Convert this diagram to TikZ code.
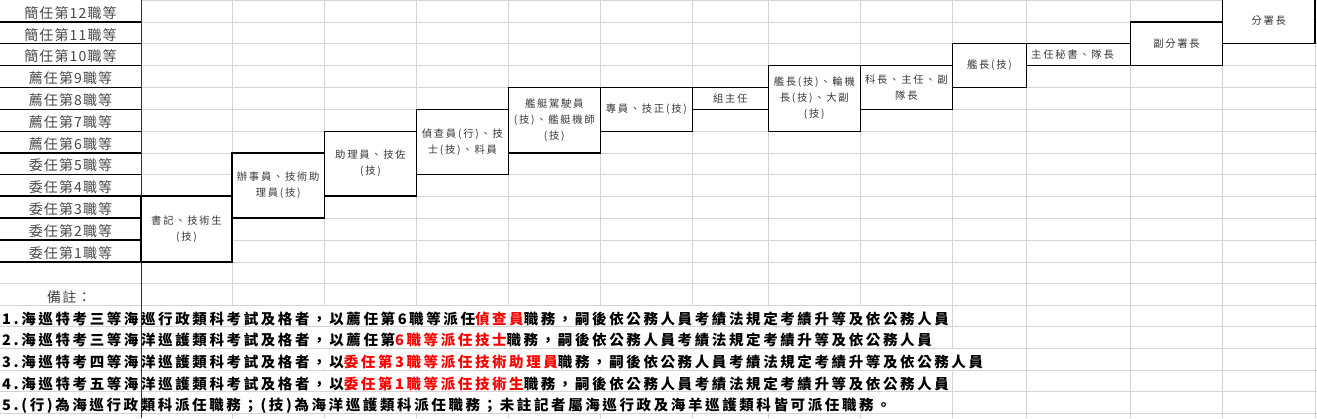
\documentclass[tikz,border=0pt]{standalone}
\usepackage{fontspec}
\setmainfont{Noto Sans CJK TC}
\newfontfamily\myLabF[LetterSpace=8]{Noto Sans CJK TC}
\newfontfamily\myBoxF[LetterSpace=17]{Noto Sans CJK TC}
\newfontfamily\myNoteF[LetterSpace=18]{Noto Sans CJK TC}
\newcommand\myLab{\myLabF\fontsize{14pt}{16pt}\selectfont}
\newcommand\myBox{\myBoxF\fontsize{10.3pt}{16pt}\selectfont}
\newcommand\myNote{\myNoteF\bfseries\fontsize{14.5pt}{16pt}\selectfont}
\definecolor{gridgray}{HTML}{D4D4D4}
\definecolor{hl}{HTML}{FF0000}
\begin{document}
\begin{tikzpicture}[x=1pt,y=-1pt,
  gl/.style={draw=gridgray, line width=0.8pt},
  blackrule/.style={draw=black, line width=1.3pt},
  cellbox/.style={draw=black, line width=1.3pt, fill=white, inner sep=0pt, outer sep=0pt,
    align=center, font=\myBox, text=black!78, anchor=north west},
  rank/.style={anchor=base, font=\myLab, text=black!72, inner sep=0pt},
  note/.style={anchor=base west, font=\myNote, text=black, inner sep=0pt}]
\useasboundingbox (0,0) rectangle (1317,418);
\fill[white] (0,0) rectangle (1317,418);
% vertical gridlines
\foreach \x in {232,324.5,416.5,508.3,600.3,692.3,768.3,860.3,952.5,1026.5,1130.5,1222.5,1315}
  \draw[gl] (\x,0) -- (\x,418);
% hide gridlines where the notes overflow
\fill[white] (142,305.6) rectangle (861.5,326.1);
\fill[white] (142,327.3) rectangle (861.5,347.7);
\fill[white] (142,348.9) rectangle (954,369.4);
\fill[white] (142,370.6) rectangle (861.5,391.1);
\fill[white] (142,392.3) rectangle (861.5,412.7);
% horizontal gridlines
\foreach \y in {0.3,22,43.5,65.3,87.3,109.3,131.3,153,174.3,196,218,240,262}
  \draw[gl] (141,\y) -- (1317,\y);
\foreach \y in {283.3,305,326.7,348.3,370,391.7,413.3}
  \draw[gl] (0,\y) -- (1317,\y);
% rank column rules
\foreach \y in {22,43.5,65.3,87.3,109.3,131.3,153,174.3,196,218,240,262}
  \draw[blackrule] (0,\y) -- (141,\y);
\draw[draw=black!80, line width=1pt] (141,0) -- (141,418);
% rank labels
\foreach \t/\y [count=\i] in {簡任第12職等/18.5, 簡任第11職等/40, 簡任第10職等/61.8,
  薦任第9職等/83.8, 薦任第8職等/105.8, 薦任第7職等/127.8, 薦任第6職等/149.5,
  委任第5職等/170.8, 委任第4職等/192.5, 委任第3職等/214.5, 委任第2職等/236.5, 委任第1職等/258.5}
  \node[rank] (rk\i) at (70.5,\y) {\t};
% position boxes
\node[cellbox, minimum width=91pt, minimum height=66pt] (b1) at (141,196) {書記、技術生\\(技)};
\node[cellbox, minimum width=92.5pt, minimum height=65pt] (b2) at (232,153) {辦事員、技術助\\理員(技)};
\node[cellbox, minimum width=92pt, minimum height=64.7pt] (b3) at (324.5,131.3) {助理員、技佐\\(技)};
\node[cellbox, minimum width=91.8pt, minimum height=65pt] (b4) at (416.5,109.3) {偵查員(行)、技\\士(技)、料員};
\node[cellbox, minimum width=92pt, minimum height=65.7pt] (b5) at (508.3,87.3) {艦艇駕駛員\\(技)、艦艇機師\\(技)};
\node[cellbox, minimum width=92pt, minimum height=44pt] (b6) at (600.3,87.3) {專員、技正(技)};
\node[cellbox, minimum width=76pt, minimum height=22pt] (b7) at (692.3,87.3) {組主任};
\node[cellbox, minimum width=92pt, minimum height=66pt] (b8) at (768.3,65.3) {艦長(技)、輪機\\長(技)、大副\\(技)};
\node[cellbox, minimum width=92.2pt, minimum height=44pt] (b9) at (860.3,65.3) {科長、主任、副\\隊長};
\node[cellbox, minimum width=74pt, minimum height=43.8pt] (b10) at (952.5,43.5) {艦長(技)};
\node[cellbox, minimum width=104pt, minimum height=21.8pt] (b11) at (1026.5,43.5) {};
\node[anchor=west, font=\myBox, text=black!78, inner sep=0pt] (t11) at (1031,54.6) {主任秘書、隊長};
\node[cellbox, minimum width=92pt, minimum height=43.3pt] (b12) at (1130.5,22) {副分署長};
\node[cellbox, minimum width=92.5pt, minimum height=46.5pt] (b13) at (1222.5,-3) {分署長};
% remarks
\node[anchor=base west, font=\myLab, text=black!72, inner sep=0pt] (rem) at (47,302.5) {備註：};
\node[note] (n1) at (2,324) {1.海巡特考三等海巡行政類科考試及格者，以薦任第6職等派任\textcolor{hl}{偵查員}職務，嗣後依公務人員考績法規定考績升等及依公務人員};
\node[note] (n2) at (2,345.6) {2.海巡特考三等海洋巡護類科考試及格者，以薦任第\textcolor{hl}{6職等派任技士}職務，嗣後依公務人員考績法規定考績升等及依公務人員};
\node[note] (n3) at (2,367.3) {3.海巡特考四等海洋巡護類科考試及格者，以\textcolor{hl}{委任第3職等派任技術助理員}職務，嗣後依公務人員考績法規定考績升等及依公務人員};
\node[note] (n4) at (2,389) {4.海巡特考五等海洋巡護類科考試及格者，以\textcolor{hl}{委任第1職等派任技術生}職務，嗣後依公務人員考績法規定考績升等及依公務人員};
\node[note] (n5) at (2,410.6) {5.(行)為海巡行政類科派任職務；(技)為海洋巡護類科派任職務；未註記者屬海巡行政及海羊巡護類科皆可派任職務。};
\end{tikzpicture}
\end{document}
